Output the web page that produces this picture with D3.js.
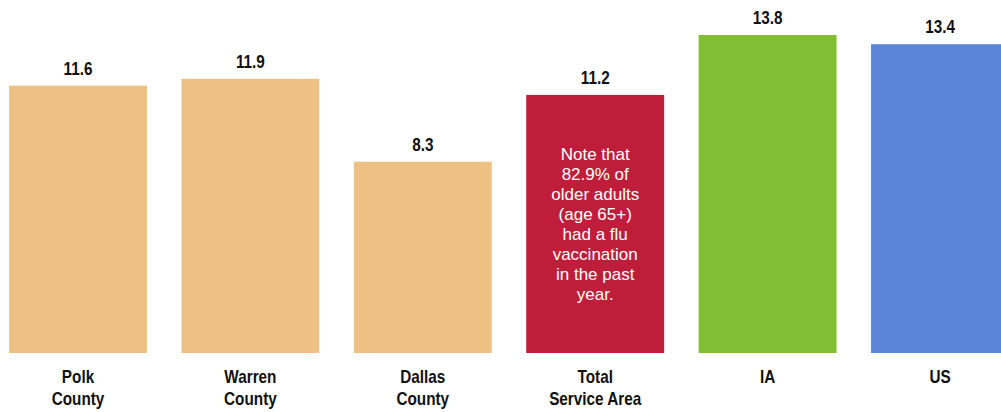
<!DOCTYPE html>
<html><head><meta charset="utf-8">
<script src="https://cdn.jsdelivr.net/npm/d3@7"></script>
<style>html,body{margin:0;padding:0;background:#fff;overflow:hidden}</style>
</head><body>
<svg id="chart" width="1001" height="412"></svg>
<script>
const categories = ["Polk County", "Warren County", "Dallas County", "Total Service Area", "IA", "US"];
const labelLines = [["Polk", "County"], ["Warren", "County"], ["Dallas", "County"], ["Total", "Service Area"], ["IA"], ["US"]];
const values = [11.6, 11.9, 8.3, 11.2, 13.8, 13.4];
const colors = ["#EDC183", "#EDC183", "#EDC183", "#BE1E3A", "#80BF33", "#5B84D6"];
const noteLines = ["Note that", "82.9% of", "older adults", "(age 65+)", "had a flu", "vaccination", "in the past", "year."];
const noteCategory = "Total Service Area";

const svg = d3.select("#chart");
const baseY = 353;
const x = d3.scaleBand().domain(categories).range([-8.2, 1026.2]).paddingInner(0.2).paddingOuter(0.1);
const y = d3.scaleLinear().domain([0, 13.8]).range([baseY, 35]);

const data = categories.map((c, i) => ({c, v: values[i], col: colors[i], lines: labelLines[i]}));

svg.selectAll("rect.bar").data(data).join("rect")
  .attr("class", "bar")
  .attr("x", d => x(d.c)).attr("width", x.bandwidth())
  .attr("y", d => y(d.v)).attr("height", d => baseY - y(d.v))
  .attr("fill", d => d.col);

const font = "'Liberation Sans', Arial, sans-serif";
const squeeze = 0.85;

svg.selectAll("g.val").data(data).join("g")
  .attr("class", "val")
  .attr("transform", d => `translate(${x(d.c) + x.bandwidth() / 2},${y(d.v) - 11}) scale(${squeeze},1)`)
  .append("text")
  .attr("text-anchor", "middle")
  .attr("font-family", font).attr("font-weight", "bold").attr("font-size", 18)
  .attr("fill", "#111")
  .text(d => d.v.toFixed(1));

const cat = svg.selectAll("g.cat").data(data).join("g")
  .attr("class", "cat")
  .attr("transform", d => `translate(${x(d.c) + x.bandwidth() / 2},0) scale(${squeeze},1)`)
  .append("text")
  .attr("text-anchor", "middle")
  .attr("font-family", font).attr("font-weight", "bold").attr("font-size", 18)
  .attr("fill", "#111");
cat.selectAll("tspan").data(d => d.lines).join("tspan")
  .attr("x", 0)
  .attr("y", (d, i) => 383 + i * 22)
  .text(d => d);

const noteX = x(noteCategory) + x.bandwidth() / 2;
svg.append("text")
  .attr("text-anchor", "middle")
  .attr("font-family", font).attr("font-size", 17)
  .attr("fill", "#fff")
  .selectAll("tspan").data(noteLines).join("tspan")
  .attr("x", noteX)
  .attr("y", (d, i) => 160 + i * 20)
  .text(d => d);
</script>
</body></html>
